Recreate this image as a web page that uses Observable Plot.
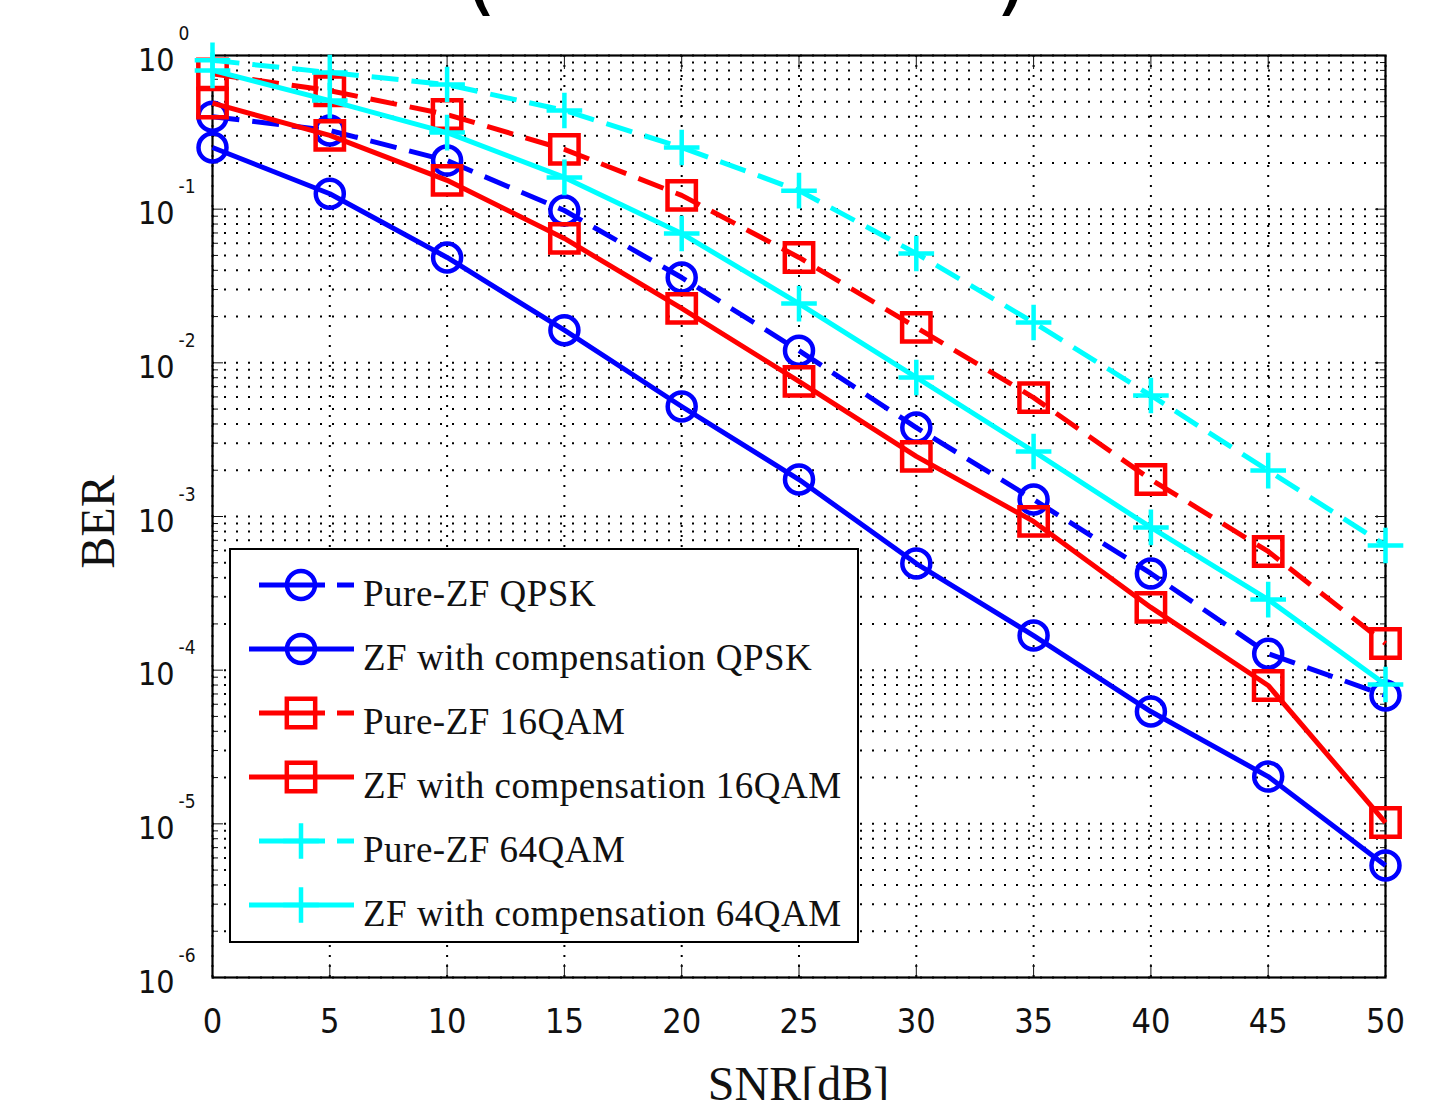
<!DOCTYPE html>
<html><head><meta charset="utf-8">
<script src="https://cdn.jsdelivr.net/npm/d3@7"></script>
<script src="https://cdn.jsdelivr.net/npm/@observablehq/plot@0.6"></script>
<style>
body{margin:0;background:#fff}
#wrap{position:relative;width:1445px;height:1100px;overflow:hidden;background:#fff}
#wrap > svg{position:absolute;left:0;top:0}
.paren{position:absolute;font-family:"DejaVu Sans",sans-serif;font-size:90px;line-height:1;color:#000}
.axlabel{position:absolute;font-family:"Liberation Serif","Times New Roman",serif;font-size:48px;color:#111;white-space:nowrap}
</style></head>
<body><div id="wrap"></div>
<script>
// ---- data ----
const snr = [0, 5, 10, 15, 20, 25, 30, 35, 40, 45, 50];
const pureQPSK = [0.40, 0.325, 0.207, 0.098, 0.0359, 0.0120, 0.00379, 0.00129, 4.26e-4, 1.28e-4, 6.84e-5];
const compQPSK = [0.252, 0.126, 0.0485, 0.0163, 0.0052, 0.00174, 4.94e-4, 1.68e-4, 5.38e-5, 2.03e-5, 5.36e-6];
const pure16QAM = [0.76, 0.59, 0.413, 0.245, 0.123, 0.0485, 0.0170, 0.00594, 0.00174, 5.92e-4, 1.49e-4];
const comp16QAM = [0.49, 0.302, 0.154, 0.0645, 0.0226, 0.00757, 0.00246, 9.29e-4, 2.56e-4, 7.95e-5, 1.02e-5];
const pure64QAM = [0.93, 0.775, 0.647, 0.439, 0.252, 0.132, 0.0515, 0.0183, 0.00613, 0.00199, 6.48e-4];
const comp64QAM = [0.80, 0.509, 0.315, 0.161, 0.0694, 0.0243, 0.00803, 0.00265, 8.49e-4, 2.88e-4, 8.07e-5];
const seriesNames = ["Pure-ZF QPSK", "ZF with compensation QPSK", "Pure-ZF 16QAM", "ZF with compensation 16QAM", "Pure-ZF 64QAM", "ZF with compensation 64QAM"];
const seriesValues = [pureQPSK, compQPSK, pure16QAM, comp16QAM, pure64QAM, comp64QAM];
const xTicks = [0, 5, 10, 15, 20, 25, 30, 35, 40, 45, 50];
const yExponents = [-6, -5, -4, -3, -2, -1, 0];
const xLabel = "SNR[dB]";
const yLabel = "BER";

// ---- styles ----
const colors = ["#0000ff", "#0000ff", "#ff0000", "#ff0000", "#00ffff", "#00ffff"];
const dashed = [true, false, true, false, true, false];
const symbols = ["circle", "circle", "square", "square", "plus", "plus"];
const radii = [14, 14, 16, 16, 11.5, 11.5];
const DASH = "27,13";

const yMajor = yExponents.map(e => Math.pow(10, e));
const yMinor = [];
for (let e = -6; e < 0; e++) for (let k = 2; k <= 9; k++) yMinor.push(k * Math.pow(10, e));
const yGrid = yMajor.concat(yMinor);

const rows = seriesNames.flatMap((name, s) => snr.map((x, i) => ({snr: x, ber: seriesValues[s][i], series: name})));

const W = 1445, H = 1100;
const ML = 212, MR = 60, MT = 55, MB = 123;
const tickFont = '"Liberation Sans Narrow","Arial Narrow","DejaVu Sans Condensed",sans-serif';

const marks = [
  Plot.ruleY(yGrid, {y: d => d, stroke: "#000", strokeWidth: 2, strokeDasharray: "2,10"}),
  Plot.ruleX(xTicks, {x: d => d, stroke: "#000", strokeWidth: 2, strokeDasharray: "2,8"}),
  // inward tick marks
  Plot.axisX({ticks: xTicks, anchor: "bottom", tickSize: 13, dy: -13, tickFormat: () => "", label: null}),
  Plot.axisX({ticks: xTicks, anchor: "top", tickSize: 13, dy: 13, tickFormat: () => "", label: null}),
  Plot.axisY({ticks: yMajor, anchor: "left", tickSize: 11, dx: 11, tickFormat: () => "", label: null}),
  Plot.axisY({ticks: yMajor, anchor: "right", tickSize: 11, dx: -11, tickFormat: () => "", label: null}),
  Plot.axisY({ticks: yMinor, anchor: "left", tickSize: 6, dx: 6, tickFormat: () => "", label: null}),
  Plot.axisY({ticks: yMinor, anchor: "right", tickSize: 6, dx: -6, tickFormat: () => "", label: null}),
  // tick labels
  Plot.axisX({ticks: xTicks, anchor: "bottom", tickSize: 0, tickPadding: 31, fontSize: 34, fontFamily: tickFont, tickFormat: d => String(d), label: null}),
  Plot.axisY({ticks: yMajor, anchor: "left", tickSize: 0, tickPadding: 38, fontSize: 32, fontFamily: tickFont, dy: 5, tickFormat: () => "10", label: null}),
  Plot.axisY({ticks: yMajor, anchor: "left", tickSize: 0, tickPadding: 34, fontSize: 19, fontFamily: tickFont, dy: -22, textAnchor: "start", tickFormat: d => String(Math.round(Math.log10(d))), label: null}),
  Plot.frame({stroke: "#000", strokeWidth: 2.2})
];
seriesNames.forEach((name, s) => {
  marks.push(Plot.line(rows, {filter: d => d.series === name, x: "snr", y: "ber", stroke: colors[s], strokeWidth: 5,
    strokeDasharray: dashed[s] ? DASH : null, strokeLinecap: "butt", strokeLinejoin: "round"}));
  marks.push(Plot.dot(rows, {filter: d => d.series === name, x: "snr", y: "ber", symbol: symbols[s], r: radii[s],
    stroke: colors[s], strokeWidth: 4.5, fill: "none"}));
});

const chart = Plot.plot({
  width: W, height: H,
  marginLeft: ML, marginRight: MR, marginTop: MT, marginBottom: MB,
  style: {background: "#fff", color: "#111", fontFamily: tickFont},
  x: {domain: [0, 50]},
  y: {type: "log", domain: [1e-6, 1]},
  marks
});
const wrap = document.getElementById("wrap");
wrap.appendChild(chart);

// cut-off title (only parentheses visible)
const p1 = document.createElement("div"); p1.className = "paren"; p1.textContent = "("; p1.style.left = "462px"; p1.style.top = "-72px"; wrap.appendChild(p1);
const p2 = document.createElement("div"); p2.className = "paren"; p2.textContent = ")"; p2.style.left = "995px"; p2.style.top = "-72px"; wrap.appendChild(p2);

// axis labels
const xl = document.createElement("div"); xl.className = "axlabel"; xl.textContent = xLabel;
xl.style.left = (ML + (W - ML - MR) / 2) + "px"; xl.style.top = "1056px"; xl.style.transform = "translateX(-50%)"; wrap.appendChild(xl);
const yl = document.createElement("div"); yl.className = "axlabel"; yl.textContent = yLabel;
yl.style.left = "97px"; yl.style.top = "522px"; yl.style.transform = "translate(-50%,-50%) rotate(-90deg)"; wrap.appendChild(yl);

// legend overlay
const lg = d3.select(wrap).append("svg").attr("width", W).attr("height", H).style("pointer-events", "none");
lg.append("rect").attr("x", 230).attr("y", 549).attr("width", 628).attr("height", 393)
  .attr("fill", "#fff").attr("stroke", "#000").attr("stroke-width", 2);
const symMap = {circle: d3.symbolCircle, square: d3.symbolSquare, plus: d3.symbolPlus};
seriesNames.forEach((name, s) => {
  const y = 585 + s * 64;
  if (dashed[s]) {
    lg.append("line").attr("x1", 259).attr("x2", 354).attr("y1", y).attr("y2", y)
      .attr("stroke", colors[s]).attr("stroke-width", 5).attr("stroke-dasharray", "66,12");
  } else {
    lg.append("line").attr("x1", 249).attr("x2", 354).attr("y1", y).attr("y2", y)
      .attr("stroke", colors[s]).attr("stroke-width", 5);
  }
  lg.append("path").attr("transform", `translate(301,${y})`)
    .attr("d", d3.symbol(symMap[symbols[s]], Math.PI * radii[s] * radii[s])())
    .attr("fill", "none").attr("stroke", colors[s]).attr("stroke-width", 4.5);
  lg.append("text").attr("x", 363).attr("y", y + 21).text(name)
    .attr("font-family", '"Liberation Serif","Times New Roman",serif').attr("font-size", 37)
    .attr("letter-spacing", 0.5).attr("fill", "#111");
});
</script>
</body></html>
